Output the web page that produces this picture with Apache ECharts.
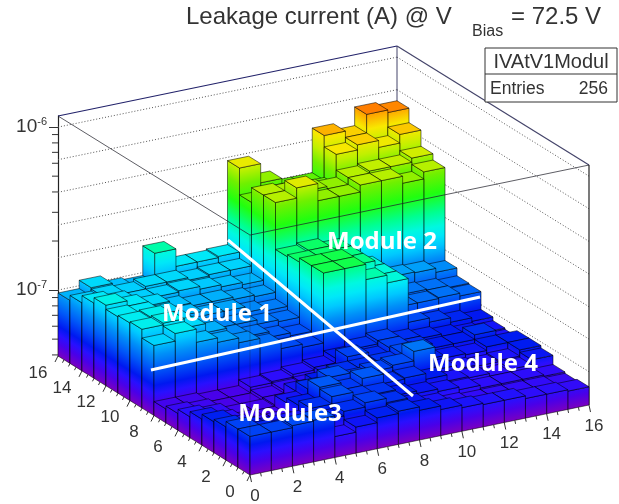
<!DOCTYPE html>
<html><head><meta charset="utf-8">
<style>html,body{margin:0;padding:0;background:#fff}#c{width:619px;height:504px}</style>
<script src="https://cdn.jsdelivr.net/npm/echarts@6/dist/echarts.min.js"></script>
</head><body><div id="c"></div>
<script>
// leakage current per cell, in units of 1e-8 A; index = x bin 0..15
const unit = 1e-8;
const row15 = [9.6,10.8,9.9,9.6,14.6,11.4,11.4,11.6, 38,29,25,25,47,43,56,54];
const row14 = [10.3,10.6,10.4,10.8,10.8,10.4,10.6,10.6, 26,27,27,26,40,43,39,44];
const row13 = [11.4,10.8,10.4,10.4,10.6,10.2,9.9,9.6, 32,31,30,29,32,33,33,35];
const row12 = [12.3,11.4,10.8,9.9,9.5,9.5,9.2,9, 32,37,29,29,32,32,29,32];
const row11 = [11.6,11.4,10.6,9.8,9.2,9.2,8.5,8.2, 16.5,17,16,12,9.2,9.2,9.1,8.6];
const row10 = [11.8,12,10.6,9.2,8.5,8.5,8,7.8, 17,17,16,13,8,8,7.9,7.7];
const row9  = [12,12.3,10.8,9.5,8.5,8,7.4,7.1, 18,18,16,13,7.8,7.8,7.9,7.6];
const row8  = [10.6,11.8,9.8,9.2,8.6,7.8,7,6.7, 18,18,14.5,13,7,6.6,6.2,5.9];
const row7  = [4.8,4.8,4.7,4.7,5.1,5.2,5.4,5.6, 6,6.5,6.8,6.4,6.2,6,5.8,5.6];
const row6  = [5,4.9,4.7,4.7,4.9,5.1,5.2,5.6, 6.8,6.3,6.8,6.4,6,6,6.4,5.5];
const row5  = [5.3,5.1,4.8,4.8,4.9,5.6,6,6.4, 6.4,6.5,7,6,5.8,5.7,6,6];
const row4  = [5.7,5.2,4.9,4.8,5.6,6.4,7.1,6.5, 6.8,7,8,5.8,5.5,5.4,5.5,6];
const row3  = [6.1,5.4,5.1,5.1,6,7.3,6.6,7.3, 6.4,6.5,6,5.5,5.4,5.2,5.4,5.8];
const row2  = [6.3,5.8,5.6,5.6,6.4,7.1,6.6,6.5, 6,5.8,5.6,5.4,5.2,5.2,5.2,5.1];
const row1  = [6.8,6.2,6,6,6,6.4,6.8,6.4, 5.8,5.5,5.2,5.1,5.1,5.1,5.1,5];
const row0  = [6.8,6.8,7,7.1,5.3,5.7,6.1,6.3, 6,5.7,5.5,5.4,5.4,5.2,5.2,5.1];
const rows = [row0,row1,row2,row3,row4,row5,row6,row7,row8,row9,row10,row11,row12,row13,row14,row15];
const xTickLabels = ['0','2','4','6','8','10','12','14','16'];
const yTickLabels = ['0','2','4','6','8','10','12','14','16'];
const zGridLevels = [1e-6,6.31e-7,3.98e-7,2.51e-7,1.58e-7,1e-7,6.31e-8];
const zMinorTicks = [9e-7,8e-7,7e-7,6e-7,5e-7,4e-7,3e-7,2e-7,9e-8,8e-8,7e-8,6e-8,5e-8,4e-8];
const zMin = 3.94e-8, zMax = 1.17e-6;
const moduleLabels = ['Module 1','Module 2','Module3','Module 4'];

// oblique projection: x bin -> (21.19,-4.375)px ; y bin -> (-12,-7.44)px
const DXX=21.19, DXY=4.375, DYX=12, DYY=7.44, K=(DYX/DXX);
const P = (api,x,y,z)=>{
  const p = api.coord([x+(16-y)*K, z]);
  return [p[0], p[1] + (16-y)*DYY - x*DXY];
};
const cmap = [[0,'#7a00c0'],[.05,'#4a00e8'],[.09,'#2810ff'],[.125,'#0018f0'],[.19,'#0058f8'],[.25,'#0090f8'],[.3,'#00c8ff'],[.34,'#00e8f8'],[.38,'#00f8e0'],[.44,'#00ff90'],[.52,'#20ff10'],[.6,'#70f000'],[.66,'#c0f000'],[.72,'#f8e800'],[.78,'#ffa000'],[.85,'#ff6000'],[1,'#e00000']];
const stops = cmap.map(s=>({offset:s[0],color:s[1]}));
const hex = c=>[1,3,5].map(i=>parseInt(c.substr(i,2),16));
function colorAt(t){
  for(let i=1;i<cmap.length;i++){ if(t<=cmap[i][0]){
    const a=cmap[i-1],b=cmap[i],f=(t-a[0])/(b[0]-a[0]),A=hex(a[1]),B=hex(b[1]);
    return 'rgb('+A.map((v,j)=>Math.round(v+(B[j]-v)*f)).join(',')+')';
  }}
  return cmap[cmap.length-1][1];
}
const frac = z=>Math.log(z/zMin)/Math.log(zMax/zMin);
function faceGrad(A,E,api){
  const ex=E[0]-A[0], ey=E[1]-A[1], l=Math.hypot(ex,ey);
  let nx=ey/l, ny=-ex/l; if(ny>0){nx=-nx;ny=-ny;}
  const H=api.coord([0,zMin])[1]-api.coord([0,zMax])[1];
  const L=H*Math.abs(ny);
  return new echarts.graphic.LinearGradient(A[0],A[1],A[0]+nx*L,A[1]+ny*L,stops,true);
}
const barData=[];
for(let y=15;y>=0;y--) for(let x=15;x>=0;x--) barData.push([x,y,rows[y][x]*unit]);
const EDGE='rgba(0,0,0,0.52)';
function renderBar(params,api){
  const x=api.value(0), y=api.value(1), z=api.value(2);
  const f0=P(api,x,y,zMin), f1=P(api,x+1,y,zMin), f2=P(api,x,y+1,zMin);
  const t0=P(api,x,y,z), t1=P(api,x+1,y,z), t2=P(api,x,y+1,z), t3=P(api,x+1,y+1,z);
  const st=(fill)=>({fill,stroke:EDGE,lineWidth:1});
  const t=frac(z);
  return {type:'group',children:[
    {type:'polygon',shape:{points:[f0,f2,t2,t0]},style:st(faceGrad(f0,f2,api))},
    {type:'polygon',shape:{points:[f0,f1,t1,t0]},style:st(faceGrad(f0,f1,api))},
    {type:'polygon',shape:{points:[t0,t1,t3,t2]},style:st(colorAt(t+Math.min(.035,t*t*.27)))}
  ]};
}
const line=(a,b,stroke,lw,dash)=>({type:'line',shape:{x1:a[0],y1:a[1],x2:b[0],y2:b[1]},style:{stroke,lineWidth:lw,lineDash:dash||null}});
function renderWalls(params,api){
  const kids=[];
  zGridLevels.forEach(z=>{
    kids.push(line(P(api,0,16,z),P(api,16,16,z),'#555',1,[1,2]));
    kids.push(line(P(api,16,16,z),P(api,16,0,z),'#555',1,[1,2]));
  });
  kids.push(line(P(api,16,16,zMin),P(api,16,16,zMax),'#44446a',1));
  kids.push(line(P(api,0,16,zMax),P(api,16,16,zMax),'#22226a',1.2));
  kids.push(line(P(api,16,16,zMax),P(api,16,0,zMax),'#44446a',1.2));
  kids.push(line(P(api,16,0,zMin),P(api,16,0,zMax),'#222',1.2));
  return {type:'group',children:kids};
}
function renderFront(params,api){
  const c='rgba(30,30,40,0.72)';
  return {type:'group',children:[
    line(P(api,0,16,zMax),P(api,0,0,zMax),c,1),
    line(P(api,0,0,zMax),P(api,16,0,zMax),c,1),
    line(P(api,0,0,zMax),P(api,0,0,zMin),'rgba(30,30,40,0.3)',1)
  ]};
}
function renderAxes(params,api){
  const kids=[];
  const c='#333';
  zMinorTicks.forEach(z=>{const p=api.coord([0,z]);kids.push(line([p[0]-6,p[1]],p,c,1));});
  for(let i=0;i<=32;i++){
    const v=i/2, major=i%4===0, l=major?1:0.5;
    const a=P(api,v,0,zMin); kids.push(line(a,[a[0]+1.5*l,a[1]+7*l],c,1));
    const b=P(api,0,v,zMin); kids.push(line(b,[b[0]-3*l,b[1]+6*l],c,1));
  }
  xTickLabels.forEach((s,i)=>{const p=P(api,i*2,0,zMin);
    kids.push({type:'text',x:p[0]+5,y:p[1]+21,style:{text:s,fontFamily:'Liberation Sans',fontSize:17,fill:'#333',align:'center',verticalAlign:'middle'}});});
  yTickLabels.forEach((s,i)=>{const p=P(api,0,i*2,zMin);
    kids.push({type:'text',x:p[0]-20,y:p[1]+17,style:{text:s,fontFamily:'Liberation Sans',fontSize:17,fill:'#333',align:'center',verticalAlign:'middle'}});});
  return {type:'group',children:kids};
}
const one=(name,render,z)=>({type:'custom',name,renderItem:render,data:[[0,zMin]],encode:{x:0,y:1},z,silent:true,clip:false});
const chart=echarts.init(document.getElementById('c'),null,{renderer:'canvas'});
const txt=(text,x,y,size,align)=>({type:'text',x,y,z:20,style:{text,fontFamily:'Liberation Sans',fontSize:size,fill:'#333',align:align||'left',verticalAlign:'middle'}});
const mod=(text,cx,cy)=>({type:'text',x:cx,y:cy,z:30,style:{text,fontFamily:'Open Sans',fontWeight:'bold',fontSize:24,fill:'#fff',align:'center',verticalAlign:'middle'}});
chart.setOption({
  animation:false,
  backgroundColor:'#fff',
  grid:{left:58,top:116,width:531,height:240,containLabel:false},
  xAxis:{type:'value',min:0,max:16+16*K,show:false},
  yAxis:{type:'log',logBase:10,min:zMin,max:zMax,
    axisLine:{show:true,lineStyle:{color:'#222',width:1.2}},
    axisTick:{show:true,length:9,lineStyle:{color:'#333'}},
    splitLine:{show:false},minorTick:{show:false},
    axisLabel:{show:true,margin:11,showMinLabel:false,showMaxLabel:false,
      formatter:v=>{const e=Math.round(Math.log10(v));return Math.abs(v/Math.pow(10,e)-1)<1e-6?'{b|10}{s|'+e+'}':'';},
      rich:{b:{fontFamily:'Liberation Sans',fontSize:19,color:'#333'},
            s:{fontFamily:'Liberation Sans',fontSize:11,color:'#333',padding:[0,0,10,0]}}}},
  series:[
    one('walls',renderWalls,1),
    {type:'custom',name:'IVAtV1Modul',renderItem:renderBar,data:barData,encode:{x:0,y:2},z:2,silent:true,clip:false},
    one('front',renderFront,3),
    one('axes',renderAxes,4)
  ],
  graphic:{elements:[
    txt('Leakage current (A) @ V',186,17,24),
    txt('Bias',472,32,16),
    txt('= 72.5 V',511,17,24),
    {type:'rect',z:19,shape:{x:485,y:48,width:132,height:54},style:{fill:'#fff',stroke:'#333',lineWidth:1}},
    {type:'line',z:20,shape:{x1:485,y1:74,x2:617,y2:74},style:{stroke:'#333',lineWidth:1}},
    txt('IVAtV1Modul',551,62,20,'center'),
    txt('Entries',490,89,17.5),
    txt('256',608,89,17.5,'right'),
    {type:'line',z:25,shape:{x1:228,y1:240,x2:413,y2:396},style:{stroke:'#fff',lineWidth:3}},
    {type:'line',z:25,shape:{x1:151,y1:370,x2:480,y2:297},style:{stroke:'#fff',lineWidth:3}},
    mod(moduleLabels[1],382,242),mod(moduleLabels[0],217,314),mod(moduleLabels[3],483,364),mod(moduleLabels[2],290,414)
  ]}
});
</script></body></html>
